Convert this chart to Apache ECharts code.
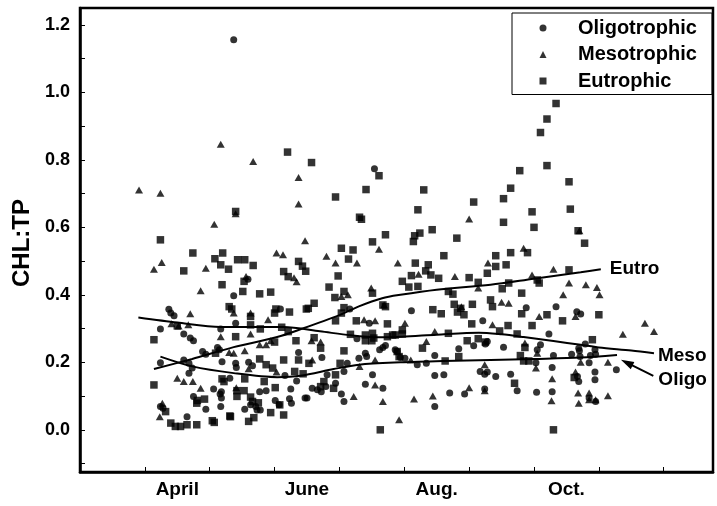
<!DOCTYPE html>
<html>
<head>
<meta charset="utf-8">
<script src="https://cdn.jsdelivr.net/npm/echarts@6/dist/echarts.min.js"></script>
<style>
  html, body { margin: 0; padding: 0; background: #fff; }
  #chart { width: 717px; height: 506px; }
</style>
</head>
<body>
<div id="chart"></div>
<script>
// Seasonal CHL:TP ratios by lake trophic class (x = month, y = CHL:TP)
const FONT = '"Liberation Sans", Arial, Helvetica, sans-serif';

const monthLabels = ['April', 'June', 'Aug.', 'Oct.'];
const monthLabelAt = [4.5, 6.5, 8.5, 10.5];
const monthTicks = [4, 5, 6, 7, 8, 9, 10, 11, 12];
const yTicks = [-0.1, 0, 0.1, 0.2, 0.3, 0.4, 0.5, 0.6, 0.7, 0.8, 0.9, 1.0, 1.1, 1.2];
const yLabels = [0, 0.2, 0.4, 0.6, 0.8, 1.0, 1.2];

const oligoPoints = [
  [5.37,1.156],[7.54,0.774],[5.59,0.446],[5.37,0.397],[4.37,0.357],[4.40,0.346],[4.45,0.338],
  [4.24,0.299],[4.60,0.284],[4.70,0.272],[4.75,0.264],[4.89,0.232],[4.94,0.224],[4.24,0.199],
  [4.68,0.197],[4.73,0.183],[4.68,0.168],[4.60,0.207],[5.06,0.121],[5.16,0.106],[4.75,0.099],
  [4.94,0.061],[4.24,0.069],[4.28,0.064],[4.65,0.039],[5.17,0.069],[5.18,0.113],[5.54,0.061],
  [5.63,0.074],[5.71,0.069],[6.09,0.358],[6.37,0.229],[5.40,0.316],[5.17,0.299],[5.12,0.244],
  [5.15,0.237],[5.19,0.202],[5.40,0.197],[5.41,0.185],[5.60,0.200],[5.66,0.190],[6.34,0.145],
  [6.16,0.161],[5.31,0.153],[5.18,0.094],[5.77,0.113],[5.87,0.116],[6.25,0.121],[6.47,0.094],
  [6.01,0.087],[6.07,0.074],[6.23,0.092],[6.26,0.079],[5.73,0.059],[5.78,0.059],[7.16,0.358],
  [7.46,0.316],[7.27,0.270],[7.62,0.237],[7.67,0.244],[7.71,0.250],[7.86,0.237],[6.73,0.214],
  [7.30,0.212],[7.40,0.227],[7.42,0.217],[7.12,0.197],[7.07,0.173],[6.58,0.123],[6.66,0.119],
  [6.72,0.113],[6.79,0.128],[6.81,0.163],[6.94,0.138],[6.50,0.094],[7.07,0.084],[7.03,0.106],
  [7.40,0.135],[7.67,0.123],[7.51,0.163],[8.11,0.353],[9.21,0.323],[8.84,0.240],[9.07,0.249],
  [9.25,0.254],[7.89,0.232],[7.94,0.214],[8.01,0.212],[8.20,0.193],[8.34,0.197],[8.47,0.220],
  [9.17,0.173],[9.24,0.165],[8.47,0.161],[8.61,0.163],[8.70,0.109],[8.93,0.106],[9.24,0.121],
  [8.47,0.069],[9.88,0.362],[10.34,0.365],[10.66,0.350],[10.72,0.343],[10.23,0.284],[9.28,0.262],
  [9.53,0.245],[10.10,0.252],[10.05,0.237],[10.30,0.220],[10.58,0.224],[10.69,0.242],[10.03,0.199],
  [10.28,0.185],[9.28,0.171],[9.41,0.158],[9.64,0.165],[10.69,0.143],[9.74,0.116],[10.04,0.111],
  [10.28,0.113],[10.79,0.254],[10.94,0.237],[10.95,0.224],[10.87,0.220],[10.70,0.234],[10.71,0.217],
  [10.85,0.199],[11.27,0.178],[10.94,0.171],[10.94,0.148],[10.67,0.158],[10.85,0.094],[10.95,0.084]
];

const mesoPoints = [
  [5.17,0.846],[5.67,0.795],[6.37,0.748],[3.91,0.711],[4.24,0.701],[6.37,0.669],[5.40,0.640],
  [5.07,0.609],[6.47,0.560],[7.61,0.535],[9.00,0.625],[10.70,0.590],[9.84,0.538],[4.26,0.496],
  [4.14,0.476],[4.94,0.479],[6.03,0.524],[6.13,0.519],[4.86,0.412],[5.56,0.454],[6.30,0.451],
  [6.34,0.439],[6.80,0.514],[6.94,0.494],[7.27,0.494],[4.41,0.314],[4.52,0.308],[4.70,0.344],
  [4.67,0.311],[4.50,0.153],[4.60,0.143],[4.74,0.143],[4.86,0.123],[4.27,0.079],[4.23,0.039],
  [5.37,0.346],[5.63,0.346],[5.90,0.326],[5.17,0.276],[5.63,0.284],[5.30,0.229],[5.37,0.227],
  [5.54,0.234],[5.77,0.252],[5.87,0.252],[5.94,0.264],[5.60,0.181],[6.03,0.171],[5.41,0.125],
  [7.90,0.494],[7.13,0.400],[7.03,0.395],[7.49,0.420],[7.38,0.326],[7.55,0.323],[6.57,0.264],
  [6.71,0.260],[6.58,0.207],[7.55,0.207],[7.31,0.188],[7.22,0.099],[7.55,0.133],[7.67,0.084],
  [7.92,0.030],[8.22,0.461],[8.78,0.454],[9.29,0.494],[9.14,0.420],[8.88,0.365],[8.01,0.316],
  [8.47,0.291],[8.34,0.262],[8.10,0.207],[9.24,0.193],[9.00,0.125],[8.15,0.091],[8.44,0.100],
  [10.30,0.476],[9.97,0.459],[10.54,0.435],[10.45,0.400],[9.50,0.378],[9.61,0.375],[10.08,0.336],
  [10.64,0.336],[9.36,0.311],[9.86,0.257],[10.05,0.227],[10.03,0.183],[10.28,0.151],[10.64,0.171],
  [10.27,0.086],[10.68,0.109],[10.69,0.079],[10.80,0.430],[10.97,0.422],[11.01,0.400],[11.71,0.316],
  [11.85,0.291],[11.37,0.283],[10.72,0.200],[11.14,0.200],[10.85,0.109],[10.85,0.089],[10.95,0.089],
  [11.14,0.101],[7.69,0.370],[9.24,0.116]
];

const eutroPoints = [
  [6.20,0.823],[6.57,0.792],[7.61,0.753],[7.41,0.712],[6.94,0.690],[5.40,0.647],[7.31,0.630],
  [7.34,0.624],[7.71,0.578],[4.24,0.563],[7.51,0.557],[7.03,0.538],[7.21,0.533],[8.30,0.711],
  [9.07,0.675],[9.53,0.685],[9.64,0.716],[9.78,0.768],[10.10,0.881],[10.20,0.921],[10.34,0.967],
  [10.20,0.783],[10.54,0.735],[10.56,0.654],[8.21,0.652],[9.53,0.615],[9.97,0.646],[10.00,0.600],
  [10.68,0.590],[10.78,0.553],[8.43,0.593],[8.24,0.583],[8.16,0.575],[8.14,0.558],[8.81,0.568],
  [8.61,0.516],[9.41,0.516],[9.64,0.525],[9.90,0.525],[4.74,0.524],[5.20,0.524],[4.60,0.471],
  [5.08,0.507],[5.17,0.489],[5.29,0.476],[5.43,0.504],[5.54,0.504],[5.67,0.487],[5.19,0.430],
  [5.51,0.410],[5.77,0.403],[5.94,0.408],[6.14,0.469],[6.21,0.454],[6.37,0.499],[6.43,0.485],
  [6.48,0.470],[6.84,0.423],[6.98,0.456],[7.14,0.506],[5.53,0.440],[4.14,0.267],[4.50,0.308],
  [5.09,0.227],[4.14,0.133],[4.81,0.087],[4.92,0.091],[4.80,0.079],[4.32,0.054],[4.40,0.020],
  [4.47,0.010],[4.55,0.010],[4.65,0.015],[4.80,0.015],[5.04,0.027],[5.07,0.022],[5.31,0.041],
  [5.60,0.025],[5.68,0.036],[5.75,0.080],[5.30,0.365],[5.34,0.358],[5.63,0.336],[6.02,0.358],
  [6.00,0.346],[6.23,0.349],[6.49,0.358],[5.63,0.311],[5.78,0.299],[6.11,0.304],[6.21,0.291],
  [6.33,0.264],[6.37,0.207],[5.40,0.276],[6.00,0.260],[5.77,0.210],[5.87,0.193],[5.97,0.183],
  [6.14,0.207],[6.31,0.173],[6.44,0.166],[5.19,0.151],[5.22,0.143],[5.54,0.151],[5.84,0.143],
  [5.42,0.116],[5.53,0.116],[5.42,0.099],[6.01,0.125],[6.08,0.074],[6.14,0.044],[5.63,0.097],
  [5.66,0.084],[5.94,0.051],[5.32,0.039],[6.61,0.375],[6.52,0.360],[7.07,0.410],[6.93,0.392],
  [7.51,0.405],[7.67,0.370],[7.71,0.365],[7.07,0.362],[7.03,0.346],[6.94,0.323],[7.26,0.323],
  [7.74,0.314],[7.17,0.283],[7.40,0.281],[7.51,0.286],[7.53,0.272],[7.40,0.264],[7.50,0.264],
  [7.74,0.276],[7.82,0.281],[7.86,0.281],[7.07,0.234],[6.61,0.273],[6.71,0.242],[6.53,0.197],
  [7.01,0.197],[7.89,0.232],[7.92,0.217],[6.94,0.163],[6.76,0.143],[6.71,0.128],[6.91,0.123],
  [7.63,0.000],[8.17,0.494],[8.37,0.489],[8.33,0.471],[8.41,0.459],[8.11,0.457],[7.97,0.440],
  [8.07,0.423],[8.21,0.425],[8.53,0.449],[9.00,0.451],[9.14,0.437],[9.28,0.464],[8.68,0.410],
  [8.75,0.402],[8.44,0.356],[8.57,0.344],[8.77,0.372],[8.87,0.360],[8.82,0.349],[8.92,0.341],
  [9.05,0.372],[9.04,0.314],[7.97,0.296],[7.97,0.284],[8.68,0.286],[8.28,0.242],[8.97,0.264],
  [9.14,0.270],[9.25,0.260],[8.63,0.204],[8.84,0.217],[9.41,0.484],[9.57,0.489],[10.54,0.474],
  [10.05,0.444],[10.08,0.435],[9.61,0.435],[9.51,0.418],[9.81,0.405],[9.33,0.385],[9.36,0.365],
  [9.81,0.344],[10.20,0.341],[10.44,0.323],[9.60,0.309],[9.97,0.309],[9.47,0.293],[9.74,0.284],
  [9.86,0.244],[9.79,0.220],[9.84,0.204],[9.92,0.204],[9.70,0.138],[10.62,0.155],[10.30,0.000],
  [11.00,0.341],[10.90,0.267]
];

// Smoothed seasonal trends for each class
const eutroTrend = [
  [4.14,0.180],[4.73,0.210],[5.37,0.245],[6.04,0.275],[6.40,0.298],[7.00,0.340],[7.30,0.366],
  [7.66,0.390],[7.94,0.400],[8.50,0.415],[9.33,0.430],[10.00,0.448],[10.72,0.467],[11.03,0.476]
];
const mesoTrend = [
  [3.90,0.333],[4.50,0.318],[5.17,0.305],[5.60,0.305],[6.14,0.305],[6.70,0.292],[7.17,0.280],
  [7.60,0.274],[7.97,0.276],[8.50,0.282],[9.15,0.288],[9.50,0.283],[9.84,0.275],[10.30,0.263],
  [10.72,0.252],[11.00,0.244],[11.50,0.235],[11.85,0.227]
];
const oligoTrend = [
  [4.24,0.217],[4.73,0.188],[5.37,0.168],[6.04,0.156],[6.40,0.160],[6.91,0.180],[7.30,0.193],
  [7.94,0.200],[8.60,0.204],[9.33,0.207],[10.00,0.210],[10.72,0.214],[11.28,0.222]
];
// Pointer from the "Oligo" caption to the end of its trend line
const oligoPointer = [[11.84,0.160],[11.43,0.199]];

const textBase = { fontFamily: FONT, fontWeight: 'bold', color: '#000' };

const trendLine = (name, data, extra) => Object.assign({
  name, type: 'line', data, smooth: 0.3, symbol: 'none', showSymbol: false,
  lineStyle: { color: '#000', width: 2 }, z: 3, silent: true
}, extra);

const chart = echarts.init(document.getElementById('chart'), null, { renderer: 'canvas' });
chart.setOption({
  animation: false,
  backgroundColor: '#fff',
  grid: { left: 80, top: 8, right: 4, bottom: 34, show: true, borderColor: '#000', borderWidth: 2.5, containLabel: false },
  legend: {
    orient: 'vertical', left: 512, top: 13,
    padding: [2.5, 15, 1, 27.5],
    itemWidth: 7, itemHeight: 7, itemGap: 1.5,
    borderColor: '#000', borderWidth: 1, backgroundColor: '#fff',
    textStyle: Object.assign({ fontSize: 20, lineHeight: 25, padding: [0, 0, 0, 26.5] }, textBase),
    data: [
      { name: 'Oligotrophic', icon: 'circle' },
      { name: 'Mesotrophic', icon: 'triangle' },
      { name: 'Eutrophic', icon: 'rect' }
    ]
  },
  xAxis: {
    type: 'value', min: 3, max: 12.76,
    axisLine: { show: true, onZero: false, lineStyle: { color: '#000', width: 2.5 } },
    axisTick: { show: true, inside: true, length: 5, customValues: monthTicks, lineStyle: { color: '#000', width: 1 } },
    splitLine: { show: false },
    axisLabel: Object.assign({
      show: true, margin: 8, fontSize: 19, customValues: monthLabelAt,
      formatter: v => {
        const i = monthLabelAt.findIndex(p => Math.abs(p - v) < 1e-6);
        return i >= 0 ? monthLabels[i] : '';
      }
    }, textBase)
  },
  yAxis: {
    type: 'value', min: -0.125, max: 1.25,
    axisLine: { show: true, onZero: false, lineStyle: { color: '#000', width: 2.5 } },
    axisTick: { show: true, inside: true, length: 5, customValues: yTicks, lineStyle: { color: '#000', width: 1 } },
    splitLine: { show: false },
    axisLabel: Object.assign({
      margin: 10, fontSize: 18, customValues: yLabels,
      formatter: v => v.toFixed(1)
    }, textBase),
    name: 'CHL:TP', nameLocation: 'middle', nameGap: 44, nameRotate: 90,
    nameTextStyle: Object.assign({ fontSize: 24, padding: [0, 6, 0, 0] }, textBase)
  },
  series: [
    { name: 'Oligotrophic', type: 'scatter', data: oligoPoints, symbol: 'circle', symbolSize: 7,
      itemStyle: { color: '#000' }, z: 2 },
    { name: 'Mesotrophic', type: 'scatter', data: mesoPoints, symbol: 'triangle', symbolSize: [8, 7],
      itemStyle: { color: '#000' }, z: 2 },
    { name: 'Eutrophic', type: 'scatter', data: eutroPoints, symbol: 'rect', symbolSize: 7.5,
      itemStyle: { color: '#000' }, z: 2 },
    trendLine('Eutro', eutroTrend, {
      endLabel: Object.assign({ show: true, formatter: 'Eutro', distance: 9, fontSize: 19 }, textBase)
    }),
    trendLine('Meso', mesoTrend, {
      endLabel: Object.assign({ show: true, formatter: 'Meso', distance: 4, offset: [0, 3], fontSize: 19 }, textBase)
    }),
    trendLine('Oligo', oligoTrend, {
      markLine: {
        silent: true, animation: false,
        symbol: ['none', 'triangle'], symbolSize: [8, 13],
        lineStyle: { color: '#000', width: 2, type: 'solid' },
        label: Object.assign({ show: true, position: 'start', formatter: 'Oligo', distance: [5.6, 10], fontSize: 19 }, textBase),
        data: [[{ coord: oligoPointer[0] }, { coord: oligoPointer[1] }]]
      }
    })
  ]
});
</script>
</body>
</html>
